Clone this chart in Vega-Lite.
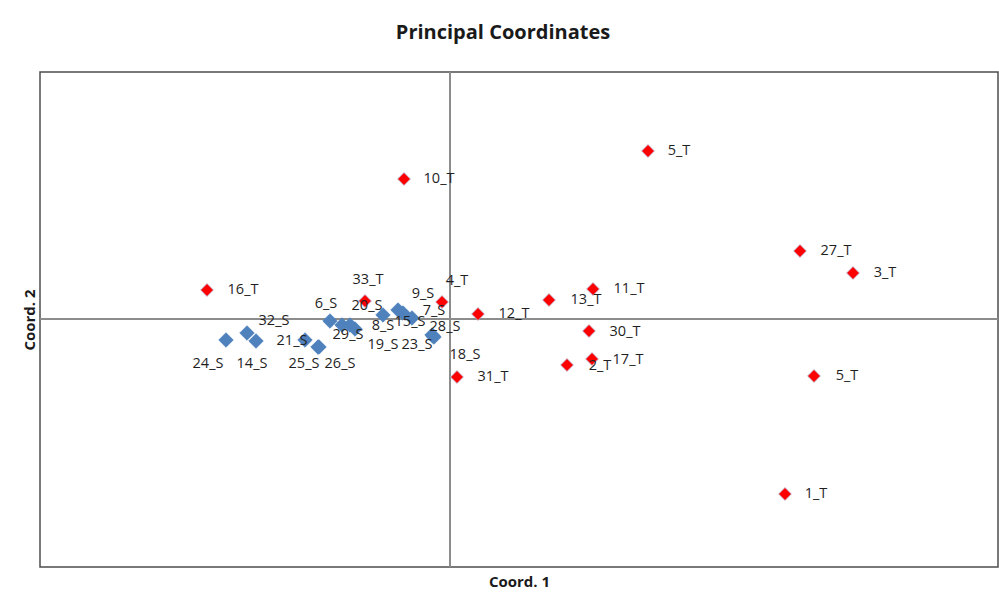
{
  "$schema": "https://vega.github.io/schema/vega-lite/v6.json",
  "width": 958,
  "height": 495,
  "autosize": "none",
  "padding": {"left": 40, "top": 72, "right": 1, "bottom": 31},
  "background": "white",
  "title": {"text": "Principal Coordinates", "font": "Open Sans", "fontSize": 20, "fontWeight": "bold", "color": "#1a1a1a", "offset": 29, "anchor": "middle", "dx": -16},
  "config": {
    "view": {"stroke": "#4d4d4d", "strokeWidth": 1.5},
    "axis": {"labels": false, "ticks": false, "domain": false, "grid": false, "titleFont": "Open Sans", "titleFontSize": 15, "titleFontWeight": "bold", "titleColor": "#1a1a1a"},
    "axisX": {"titlePadding": 7},
    "axisY": {"titlePadding": 3}
  },
  "data": {"values": [
    {"id": "24_S", "group": "S", "x": -2.24, "y": -0.21, "lx": -2.42, "ly": -0.45},
    {"id": "32_S", "group": "S", "x": -2.03, "y": -0.14, "lx": -1.76, "ly": -0.02},
    {"id": "14_S", "group": "S", "x": -1.94, "y": -0.22, "lx": -1.98, "ly": -0.45},
    {"id": "21_S", "group": "S", "x": -1.45, "y": -0.21, "lx": -1.58, "ly": -0.22},
    {"id": "25_S", "group": "S", "x": -1.32, "y": -0.28, "lx": -1.46, "ly": -0.45},
    {"id": "26_S", "group": "S", "x": -1.31, "y": -0.28, "lx": -1.10, "ly": -0.45},
    {"id": "6_S", "group": "S", "x": -1.20, "y": -0.02, "lx": -1.24, "ly": 0.15},
    {"id": "29_S", "group": "S", "x": -1.08, "y": -0.06, "lx": -1.02, "ly": -0.16},
    {"id": "20_S", "group": "S", "x": -1.00, "y": -0.06, "lx": -0.83, "ly": 0.13},
    {"id": "19_S", "group": "S", "x": -0.95, "y": -0.10, "lx": -0.67, "ly": -0.26},
    {"id": "8_S", "group": "S", "x": -0.67, "y": 0.04, "lx": -0.67, "ly": -0.07},
    {"id": "15_S", "group": "S", "x": -0.52, "y": 0.09, "lx": -0.40, "ly": -0.03},
    {"id": "9_S", "group": "S", "x": -0.47, "y": 0.06, "lx": -0.27, "ly": 0.25},
    {"id": "7_S", "group": "S", "x": -0.38, "y": 0.01, "lx": -0.16, "ly": 0.08},
    {"id": "23_S", "group": "S", "x": -0.17, "y": -0.17, "lx": -0.33, "ly": -0.26},
    {"id": "28_S", "group": "S", "x": -0.18, "y": -0.16, "lx": -0.05, "ly": -0.08},
    {"id": "18_S", "group": "S", "x": -0.16, "y": -0.18, "lx": 0.15, "ly": -0.36},
    {"id": "5_T", "group": "T", "x": 1.98, "y": 1.68, "lx": 2.29, "ly": 1.68},
    {"id": "10_T", "group": "T", "x": -0.46, "y": 1.40, "lx": -0.11, "ly": 1.40},
    {"id": "27_T", "group": "T", "x": 3.50, "y": 0.68, "lx": 3.86, "ly": 0.68},
    {"id": "3_T", "group": "T", "x": 4.03, "y": 0.46, "lx": 4.35, "ly": 0.46},
    {"id": "16_T", "group": "T", "x": -2.43, "y": 0.29, "lx": -2.07, "ly": 0.29},
    {"id": "11_T", "group": "T", "x": 1.43, "y": 0.30, "lx": 1.79, "ly": 0.30},
    {"id": "33_T", "group": "T", "x": -0.85, "y": 0.18, "lx": -0.82, "ly": 0.39},
    {"id": "4_T", "group": "T", "x": -0.08, "y": 0.17, "lx": 0.07, "ly": 0.38},
    {"id": "13_T", "group": "T", "x": 0.99, "y": 0.19, "lx": 1.36, "ly": 0.19},
    {"id": "12_T", "group": "T", "x": 0.28, "y": 0.05, "lx": 0.64, "ly": 0.05},
    {"id": "30_T", "group": "T", "x": 1.39, "y": -0.12, "lx": 1.75, "ly": -0.13},
    {"id": "2_T", "group": "T", "x": 1.17, "y": -0.46, "lx": 1.50, "ly": -0.47},
    {"id": "17_T", "group": "T", "x": 1.42, "y": -0.40, "lx": 1.78, "ly": -0.41},
    {"id": "31_T", "group": "T", "x": 0.07, "y": -0.58, "lx": 0.43, "ly": -0.58},
    {"id": "5_T", "group": "T", "x": 3.64, "y": -0.57, "lx": 3.97, "ly": -0.57},
    {"id": "1_T", "group": "T", "x": 3.35, "y": -1.75, "lx": 3.66, "ly": -1.75}
  ]},
  "layer": [
    {
      "mark": {"type": "rule", "color": "#8c8c8c", "strokeWidth": 1},
      "encoding": {"x": {"datum": 0, "type": "quantitative", "scale": {"domain": [-4.10, 5.48], "nice": false, "zero": false}, "title": "Coord. 1"}}
    },
    {
      "mark": {"type": "rule", "color": "#8c8c8c", "strokeWidth": 1},
      "encoding": {"y": {"datum": 0, "type": "quantitative", "scale": {"domain": [-2.48, 2.47], "nice": false, "zero": false}, "title": "Coord. 2"}}
    },
    {
      "mark": {"type": "point", "shape": "diamond", "filled": true, "opacity": 1, "strokeWidth": 0.8},
      "encoding": {
        "x": {"field": "x", "type": "quantitative", "scale": {"domain": [-4.10, 5.48], "nice": false, "zero": false}, "title": "Coord. 1"},
        "y": {"field": "y", "type": "quantitative", "scale": {"domain": [-2.48, 2.47], "nice": false, "zero": false}, "title": "Coord. 2"},
        "color": {"field": "group", "type": "nominal", "scale": {"domain": ["S", "T"], "range": ["#4F81BD", "#FF0000"]}, "legend": null},
        "stroke": {"field": "group", "type": "nominal", "scale": {"domain": ["S", "T"], "range": ["#4F81BD", "#B4C4E4"]}, "legend": null},
        "size": {"field": "group", "type": "nominal", "scale": {"domain": ["S", "T"], "range": [210, 165]}, "legend": null},
        "order": {"field": "group", "type": "nominal"}
      }
    },
    {
      "mark": {"type": "text", "font": "Open Sans", "fontSize": 14.5, "color": "#1f1f1f", "align": "center", "baseline": "middle"},
      "encoding": {
        "x": {"field": "lx", "type": "quantitative", "title": "Coord. 1"},
        "y": {"field": "ly", "type": "quantitative", "title": "Coord. 2"},
        "text": {"field": "id"}
      }
    }
  ]
}
